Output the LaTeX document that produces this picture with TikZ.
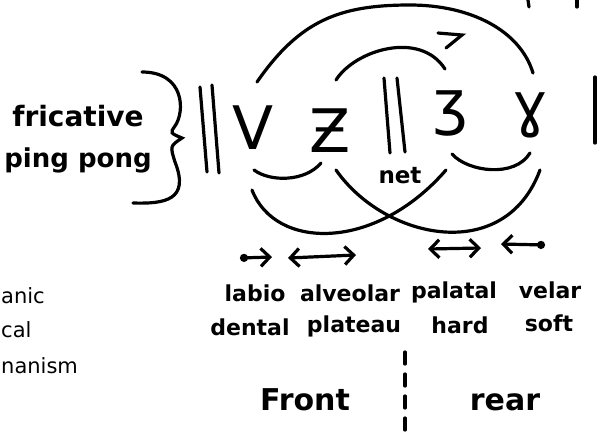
\documentclass[tikz,border=0pt]{standalone}
\usepackage{fontspec}
\setmainfont{DejaVu Sans}
\usetikzlibrary{arrows.meta}

\begin{document}
\begin{tikzpicture}[x=1pt, y=-1pt,
  ink/.style={line width=3.2pt, line cap=round},
  word/.style={inner sep=0pt, font=\fontsize{22}{24}\selectfont\bfseries},
  big/.style={inner sep=0pt, font=\fontsize{60}{64}\selectfont},
  barb/.style={ink, arrows={Circle[length=8pt]-Straight Barb[length=9pt, width=18pt]}},
  twobarb/.style={ink, arrows={Straight Barb[length=9pt, width=18pt]-Straight Barb[length=9pt, width=18pt]}}]
\useasboundingbox (0,0) rectangle (600,437);
\clip (0,0) rectangle (600,437);
\node[inner sep=0pt, font=\fontsize{28}{31}\selectfont\bfseries] (fric) at (78,116) {fricative};
\node[inner sep=0pt, font=\fontsize{26}{31}\selectfont\bfseries] (ping) at (78,160) {ping pong};
\draw[ink] (142,72) .. controls (185,72) and (185,112) .. (175,126) .. controls (170,133) .. (182,138) .. controls (170,146) .. (175,162) .. controls (190,200) and (165,204) .. (133,203);
\draw[ink] (200,87) -- (207,172);
\draw[ink] (212,85) -- (219,173);
\node[big] (v) at (253,128) {V};
\node[big] (z) at (330,131) {Ƶ};
\draw[ink] (384,78) -- (390,153);
\draw[ink] (397,78) -- (405,152);
\node[big] (zh) at (451,113) {ʒ};
\node[big] (gam) at (530,115) {ɣ};
\draw[ink] (595,77) -- (595,143);
\draw[ink] (528,0) -- (529,7);
\draw[ink] (577,0) -- (577,7);
\node[inner sep=0pt, font=\fontsize{23}{25}\selectfont\bfseries] (net) at (400,176) {net};
\draw[ink] (257,82) .. controls (300,20) and (340,5) .. (410,5) .. controls (470,5) and (520,30) .. (533,73);
\draw[ink] (336,80) .. controls (355,50) and (420,30) .. (445,69);
\draw[ink] (438,33) -- (462,35) -- (446,48);
\draw[ink] (254,170) .. controls (270,182) and (305,182) .. (321,163);
\draw[ink] (452,154) .. controls (468,172) and (515,178) .. (530,153);
\draw[ink] (252,190) .. controls (275,250) and (375,252) .. (446,170);
\draw[ink] (336,170) .. controls (385,240) and (505,265) .. (540,170);
\draw[barb] (240,258) -- (272,257);
\draw[twobarb] (288,258) -- (356,255);
\draw[twobarb] (428,249) -- (481,248);
\draw[barb] (545,245) -- (501,244);
\node[word] (labio) at (255,293) {labio};
\node[word] (dental) at (250,327) {dental};
\node[word] (alv) at (350,293) {alveolar};
\node[word] (plat) at (354,326) {plateau};
\node[word] (pal) at (454,292) {palatal};
\node[word] (hard) at (460,325) {hard};
\node[word] (vel) at (550,290) {velar};
\node[word] (soft) at (549,323) {soft};
\node[inner sep=0pt, font=\fontsize{30}{32}\selectfont\bfseries] (front) at (305,400) {Front};
\node[inner sep=0pt, font=\fontsize{30}{32}\selectfont\bfseries] (rear) at (505,402) {rear};
\draw[ink, dash pattern=on 12pt off 10pt] (405,352) -- (405,437);
\node[inner sep=0pt, anchor=west, font=\fontsize{21}{23}\selectfont] (org) at (1,296) {anic};
\node[inner sep=0pt, anchor=west, font=\fontsize{21}{23}\selectfont] (cal) at (1,330) {cal};
\node[inner sep=0pt, anchor=west, font=\fontsize{21}{23}\selectfont] (mech) at (1,366) {nanism};
\end{tikzpicture}
\end{document}
